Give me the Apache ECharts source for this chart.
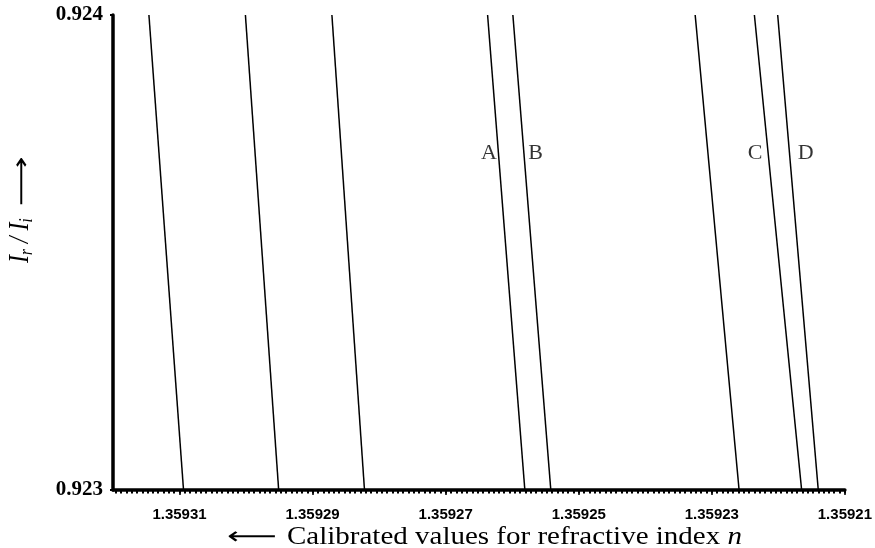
<!DOCTYPE html>
<html><head><meta charset="utf-8">
<script src="https://cdn.jsdelivr.net/npm/echarts@6/dist/echarts.min.js"></script>
<style>html,body{margin:0;padding:0;background:#fff}#c{width:875px;height:548px}</style>
</head><body><div id="c"></div>
<script>
// ---- data ----
const xMin = 1.35921, xMax = 1.35932;          // refractive index axis (reversed)
const yMin = 0.923, yMax = 0.924;              // Ir/Ii axis
const xTickValues = [1.35921, 1.35923, 1.35925, 1.35927, 1.35929, 1.35931];
const xTickLabels = ['1.35921', '1.35923', '1.35925', '1.35927', '1.35929', '1.35931'];
const yTickValues = [0.923, 0.924];
const yTickLabels = ['0.923', '0.924'];
const minorTickStep = 0.0000008;
// each calibration curve: x at the top (y = 0.924) and at the bottom (y = 0.923)
const curveTopX    = [1.3593146, 1.3593001, 1.3592871, 1.3592637, 1.3592599, 1.3592325, 1.3592236, 1.3592201];
const curveBottomX = [1.3593094, 1.3592951, 1.3592822, 1.3592581, 1.3592542, 1.3592259, 1.3592165, 1.3592140];
// letter labels next to curves
const markLetters = ['A', 'B', 'C', 'D'];
const markX = [1.3592635, 1.3592565, 1.3592235, 1.3592159];
const markY = [0.92371, 0.92371, 0.92371, 0.92371];

// ---- chart ----
const minorTicks = [];
for (let v = xMin; v <= xMax + 1e-12; v += minorTickStep) minorTicks.push(+v.toFixed(8));

const series = curveTopX.map((tx, i) => ({
  type: 'line',
  name: 'curve' + (i + 1),
  data: [[tx, yMax], [curveBottomX[i], yMin]],
  showSymbol: false,
  symbol: 'none',
  lineStyle: { color: '#000', width: 1.5 },
  silent: true,
  animation: false
}));
series.push({
  type: 'scatter',
  data: markLetters.map((t, i) => ({ value: [markX[i], markY[i]], name: t })),
  symbolSize: 1,
  itemStyle: { color: 'rgba(0,0,0,0)' },
  label: {
    show: true, position: 'inside', formatter: p => p.name,
    color: '#000', fontFamily: 'Liberation Serif', fontSize: 22
  },
  animation: false
});

const chart = echarts.init(document.getElementById('c'));
chart.setOption({
  animation: false,
  backgroundColor: '#fff',
  grid: { left: 113, right: 30, top: 15, bottom: 58, containLabel: false },
  xAxis: [{
    type: 'value', min: xMin, max: xMax, inverse: true,
    splitLine: { show: false },
    axisLine: { show: true, lineStyle: { color: '#000', width: 3.5 } },
    axisTick: { show: true, customValues: minorTicks, length: 3.5, lineStyle: { color: '#000', width: 2 } },
    axisLabel: {
      show: true, customValues: xTickValues, margin: 17,
      formatter: v => { const i = xTickValues.findIndex(t => Math.abs(t - v) < 1e-9); return i >= 0 ? xTickLabels[i] : ''; },
      color: '#000', fontFamily: 'Liberation Sans', fontWeight: 'bold', fontSize: 15
    }
  }, {
    type: 'value', min: xMin, max: xMax, inverse: true, position: 'bottom',
    splitLine: { show: false },
    axisLine: { show: false },
    axisTick: { show: true, customValues: xTickValues, length: 5, lineStyle: { color: '#000', width: 1.5 } },
    axisLabel: { show: false }
  }],
  yAxis: {
    type: 'value', min: yMin, max: yMax, interval: yMax - yMin,
    splitLine: { show: false },
    axisLine: { show: true, lineStyle: { color: '#000', width: 3.5 } },
    axisTick: { show: true, length: 3, lineStyle: { color: '#000', width: 2 } },
    axisLabel: {
      margin: 10,
      formatter: v => { const i = yTickValues.findIndex(t => Math.abs(t - v) < 1e-9); return i >= 0 ? yTickLabels[i] : ''; },
      color: '#000', fontFamily: 'Liberation Serif', fontWeight: 'bold', fontSize: 21
    }
  },
  series: series,
  graphic: [
    {
      type: 'text', x: 227, y: 538, scaleX: 1.45,
      style: { text: '\u27F5', fill: '#000', fontFamily: 'DejaVu Sans', fontSize: 24, verticalAlign: 'middle', align: 'left' }
    },
    {
      type: 'text', x: 287, y: 537, scaleX: 1.16,
      style: {
        text: '{a|Calibrated values for refractive index }{b|n}',
        rich: {
          a: { fontFamily: 'Liberation Serif', fontSize: 25, fill: '#000' },
          b: { fontFamily: 'Liberation Serif', fontSize: 25, fontStyle: 'italic', fill: '#000' }
        },
        verticalAlign: 'middle', align: 'left'
      }
    },
    {
      type: 'text', x: 20, y: 263, rotation: Math.PI / 2, scaleY: 1.25,
      style: {
        text: '{I|I}{s|r}{I| / I}{s|i}',
        rich: {
          I: { fontFamily: 'Liberation Serif', fontStyle: 'italic', fontSize: 24, lineHeight: 26, fill: '#000' },
          s: { fontFamily: 'Liberation Serif', fontStyle: 'italic', fontSize: 15, lineHeight: 15, verticalAlign: 'bottom', fill: '#000' }
        },
        verticalAlign: 'middle', align: 'left'
      }
    },
    {
      type: 'text', x: 23, y: 206, rotation: Math.PI / 2, scaleX: 1.45,
      style: { text: '\u27F6', fill: '#000', fontFamily: 'DejaVu Sans', fontSize: 24, verticalAlign: 'middle', align: 'left' }
    }
  ]
});
</script>
</body></html>
